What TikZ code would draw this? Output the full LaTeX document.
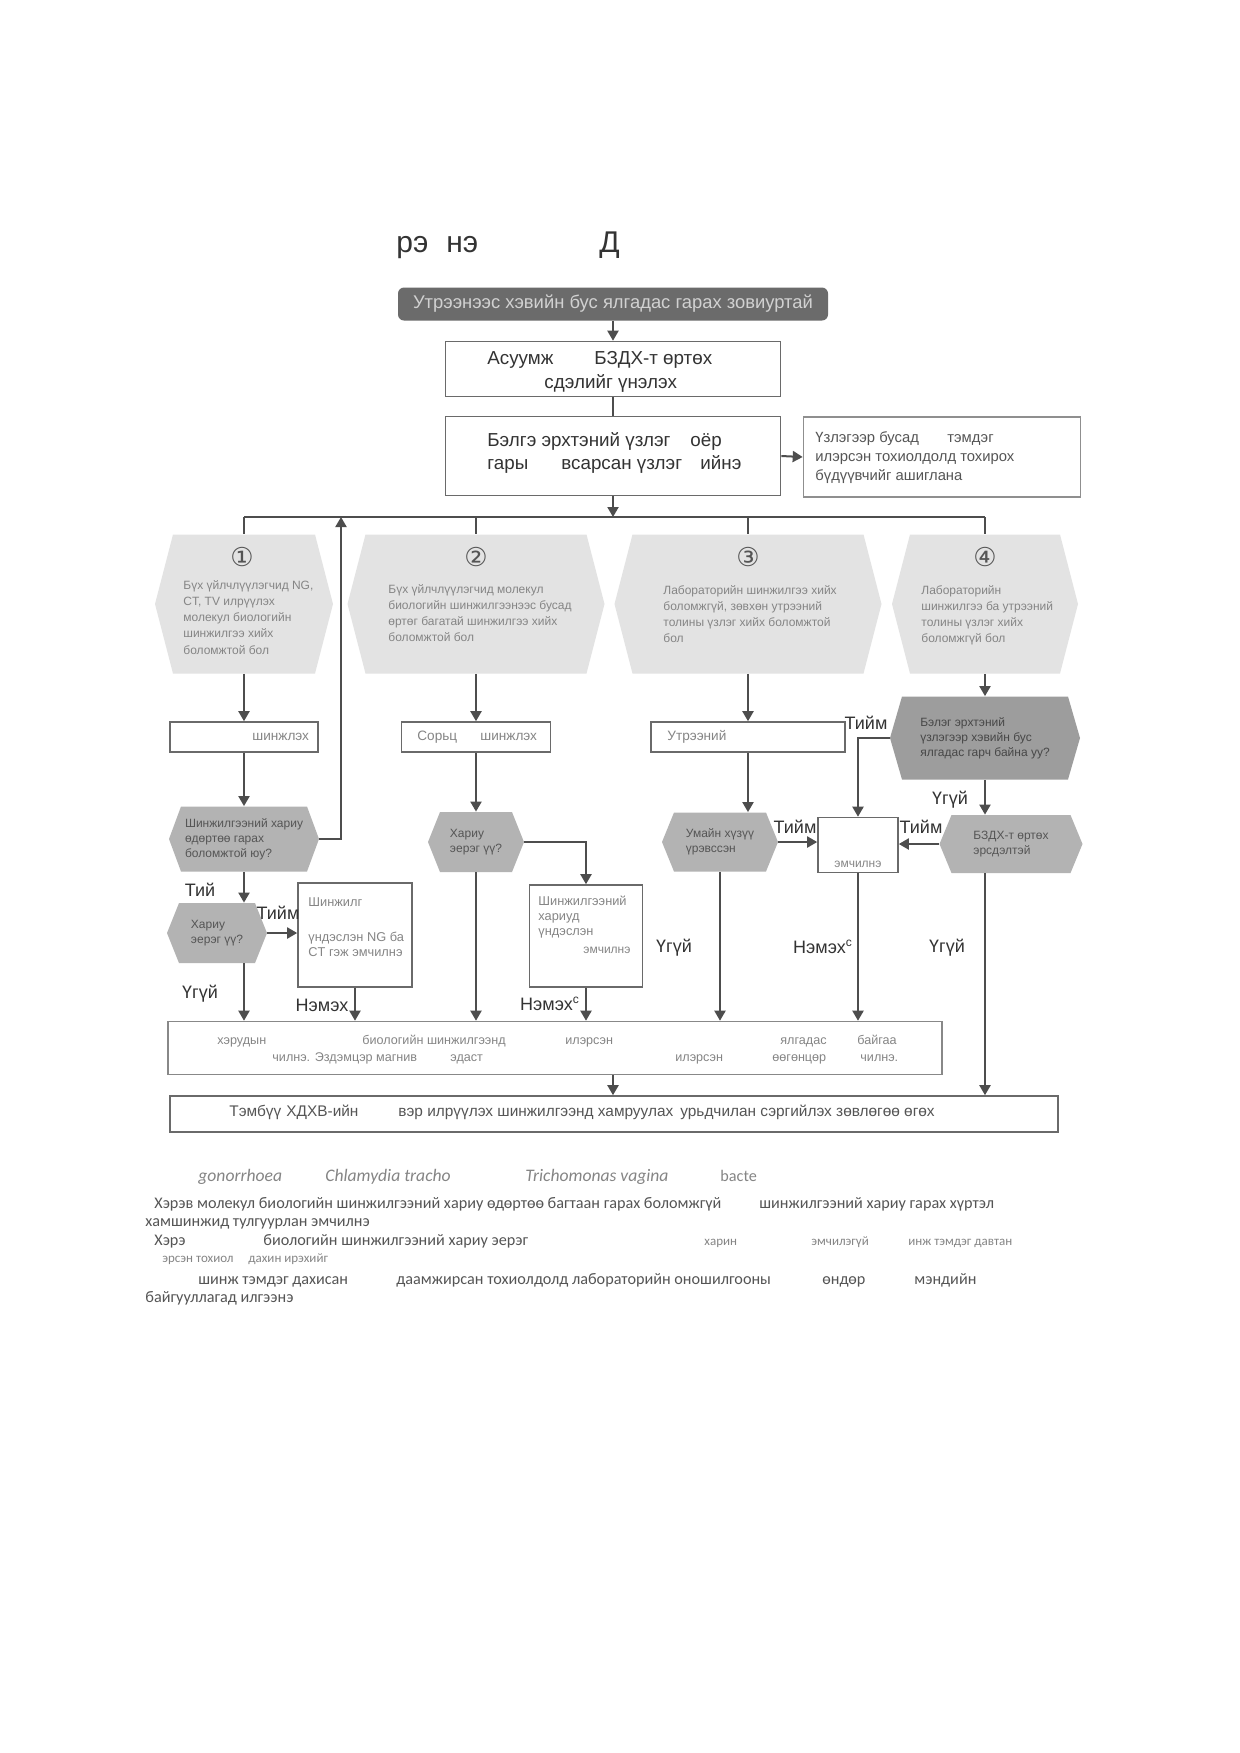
\documentclass[tikz,border=0pt]{standalone}
\usepackage{fontspec}
\setmainfont{Liberation Sans}
\newfontfamily\circfont{DejaVu Sans}
\newfontfamily\fnfont{Carlito}
\usetikzlibrary{arrows.meta}
\definecolor{lncol}{HTML}{4d4d4d}
\definecolor{boxcol}{HTML}{6a6a6a}
\definecolor{darkbox}{HTML}{6b6b6b}
\definecolor{hexlt}{HTML}{e3e3e3}
\definecolor{hexmd}{HTML}{b3b3b3}
\definecolor{hexdk}{HTML}{9d9d9d}
\definecolor{txtdk}{HTML}{333333}
\definecolor{txtmd}{HTML}{555555}
\definecolor{txtlt}{HTML}{858585}
\tikzset{
  sz/.style 2 args={minimum width=#1*0.5pt, minimum height=#2*0.5pt},
  box/.style={draw=boxcol, line width=0.8pt, inner sep=0pt},
  hexa/.style 2 args={inner sep=0pt, path picture={
    \fill[#1] ([xshift=#2]path picture bounding box.north west)
      -- ([xshift=-#2]path picture bounding box.north east)
      -- (path picture bounding box.east)
      -- ([xshift=-#2]path picture bounding box.south east)
      -- ([xshift=#2]path picture bounding box.south west)
      -- (path picture bounding box.west) -- cycle;}},
  conn/.style={draw=lncol, line width=1pt},
  arr/.style={conn, -{Triangle[length=5pt,width=5.5pt]}},
  lbl/.style={inner sep=0pt, text=txtdk, font=\fontsize{9}{10}\selectfont},
  frag/.style={anchor=base west, inner sep=0pt},
  bt/.style={frag, text=txtdk, font=\fontsize{9.4}{11}\selectfont},
  dt/.style={frag, text=txtmd, font=\fontsize{7.4}{9}\selectfont},
  st/.style={frag, text=txtlt, font=\fontsize{6.8}{7.5}\selectfont},
  hxt/.style={anchor=north west, inner sep=0pt, align=left, text=txtlt, font=\fontsize{6}{8.1}\selectfont},
  qt/.style={align=left, text=txtmd, font=\fontsize{6}{7.6}\selectfont},
  circ/.style={inner sep=0pt, text=txtmd, font=\circfont\fontsize{13}{13}\selectfont},
  bbt/.style={frag, text=txtlt, font=\fontsize{6.3}{7}\selectfont},
  fbt/.style={frag, text=txtmd, font=\fontsize{7.7}{9}\selectfont},
  fn/.style={frag, text=txtmd, font=\fnfont\fontsize{8.1}{10}\selectfont},
  fni/.style={frag, text=txtlt, font=\fnfont\itshape\fontsize{8.8}{10}\selectfont},
  fns/.style={frag, text=txtlt, font=\fnfont\fontsize{6.5}{8}\selectfont},
}
\begin{document}
\begin{tikzpicture}[x=0.5pt,y=-0.5pt]
\useasboundingbox (0,0) rectangle (1240,1753);
\fill[white] (0,0) rectangle (1240,1753);

% title
\node[frag, text=txtdk, font=\fontsize{15}{17}\selectfont] (ttl1) at (396,252) {рэ\hspace{9pt}нэ};
\node[frag, text=txtdk, font=\fontsize{15}{17}\selectfont] (ttl2) at (599,252) {Д};

% top boxes
\node[fill=darkbox, rounded corners=3pt, sz={430}{33}, inner sep=0pt, text=white!82!black, font=\fontsize{9.2}{10}\selectfont] (A) at (613,304) {Утрээнээс хэвийн бус ялгадас гарах зовиуртай};

\node[box, sz={335}{55}] (B) at (613,369) {};
\node[bt] (b1) at (487,364) {Асуумж};
\node[bt] (b2) at (594,364) {БЗДХ-т өртөх};
\node[bt] (b3) at (544,388) {сдэлийг үнэлэх};

\node[box, sz={335}{79}] (C) at (613,456) {};
\node[bt] (c1) at (487,446) {Бэлгэ эрхтэний үзлэг};
\node[bt] (c2) at (690,446) {оёр};
\node[bt] (c3) at (487,469) {гары};
\node[bt] (c4) at (561,469) {всарсан үзлэг};
\node[bt] (c5) at (700,469) {ийнэ};

\node[box, draw=boxcol!75, sz={277}{80}] (D) at (942,457) {};
\node[dt] (d1) at (815,442) {Үзлэгээр бусад};
\node[dt] (d2) at (947,442) {тэмдэг};
\node[dt] (d3) at (815,461) {илэрсэн тохиолдолд тохирох};
\node[dt] (d4) at (815,480) {бүдүүвчийг ашиглана};

% bus coordinates
\coordinate (busL) at (244,517);
\coordinate (busR) at (985,517);
\coordinate (upret) at (341,517);

% hexagons
\node[hexa={hexlt}{9pt}, sz={178}{139}] (H1) at (244,604) {};
\node[hexa={hexlt}{9pt}, sz={257}{139}] (H2) at (476,604) {};
\node[hexa={hexlt}{9pt}, sz={267}{139}] (H3) at (748,604) {};
\node[hexa={hexlt}{9pt}, sz={186}{139}] (H4) at (985,604) {};
\node[circ] (n1) at (242,557) {①};
\node[circ] (n2) at (476,557) {②};
\node[circ] (n3) at (748,557) {③};
\node[circ] (n4) at (985,557) {④};
\node[hxt] (h1t) at (183,580) {Бүх үйлчлүүлэгчид NG,\\CT, TV илрүүлэх\\молекул биологийн\\шинжилгээ хийх\\боломжтой бол};
\node[hxt] (h2t) at (388,584) {Бүх үйлчлүүлэгчид молекул\\биологийн шинжилгээнээс бусад\\өртөг багатай шинжилгээ хийх\\боломжтой бол};
\node[hxt] (h3t) at (663,585) {Лабораторийн шинжилгээ хийх\\боломжгүй, зөвхөн утрээний\\толины үзлэг хийх боломжтой\\бол};
\node[hxt] (h4t) at (921,585) {Лабораторийн\\шинжилгээ ба утрээний\\толины үзлэг хийх\\боломжгүй бол};

% column 1
\node[box, sz={148}{30}] (S1) at (244,737) {};
\node[st] (s1t) at (252,740) {шинжлэх};
\node[hexa={hexmd}{6pt}, sz={150}{65}, qt] (Q1) at (244,839) {Шинжилгээний хариу\\өдөртөө гарах\\боломжтой юу?};
\node[hexa={hexmd}{6pt}, sz={100}{60}, qt] (Q1b) at (217,933) {Хариу\\эерэг үү?};
\node[box, sz={114}{104}] (R1) at (355,935) {};
\node[anchor=north west, inner sep=0pt, align=left, text=txtlt, font=\fontsize{6.4}{7.5}\selectfont] (r1t) at (308,897) {Шинжилг\\[10pt]үндэслэн NG ба\\CT гэж эмчилнэ};

% column 2
\node[box, sz={149}{30}] (S2) at (476,737) {};
\node[st] (s2a) at (417,740) {Сорьц};
\node[st] (s2b) at (480,740) {шинжлэх};
\node[hexa={hexmd}{6pt}, sz={96}{60}, qt] (Q2) at (476,842) {Хариу\\эерэг үү?};
\node[box, sz={113}{102}] (R2) at (586,936) {};
\node[anchor=north west, inner sep=0pt, align=left, text=txtlt, font=\fontsize{6.4}{7.5}\selectfont] (r2t) at (538,896) {Шинжилгээний\\хариуд\\үндэслэн};
\node[frag, text=txtlt, font=\fontsize{6}{7}\selectfont] (r2e) at (583,953) {эмчилнэ};

% column 3
\node[box, sz={194}{30}] (S3) at (748,737) {};
\node[st] (s3t) at (667,740) {Утрээний};
\node[hexa={hexmd}{6pt}, sz={116}{59}, qt] (Q3) at (720,842) {Умайн хүзүү\\үрэвссэн};
\node[box, sz={80}{55}] (E) at (858,845) {};
\node[frag, text=txtlt, font=\fontsize{6}{7}\selectfont] (et) at (834,867) {эмчилнэ};

% column 4
\node[hexa={hexdk}{6pt}, sz={190}{83}, qt, text=txtdk!90] (Q4) at (985,738) {Бэлэг эрхтэний\\үзлэгээр хэвийн бус\\ялгадас гарч байна уу?};
\node[hexa={hexmd}{6pt}, sz={143}{58}, qt] (Q5) at (1011,844) {БЗДХ-т өртөх\\эрсдэлтэй};

% bottom boxes
\node[box, draw=boxcol!80, sz={774}{53}] (BB) at (555,1048) {};
\node[bbt] (bb1) at (217,1044) {хэрудын};
\node[bbt] (bb2) at (362,1044) {биологийн шинжилгээнд};
\node[bbt] (bb3) at (565,1044) {илэрсэн};
\node[bbt] (bb4) at (780,1044) {ялгадас};
\node[bbt] (bb5) at (857,1044) {байгаа};
\node[bbt] (bb6) at (272,1061) {чилнэ. Эздэмцэр магнив};
\node[bbt] (bb7) at (450,1061) {эдаст};
\node[bbt] (bb8) at (675,1061) {илэрсэн};
\node[bbt] (bb9) at (772,1061) {өөгөнцөр};
\node[bbt] (bb10) at (860,1061) {чилнэ.};

\node[box, sz={888}{36}] (FB) at (614,1114) {};
\node[fbt] (f1) at (229,1116) {Тэмбүү};
\node[fbt] (f2) at (286,1116) {ХДХВ-ийн};
\node[fbt] (f3) at (398,1116) {вэр илрүүлэх шинжилгээнд хамруулах};
\node[fbt] (f4) at (680,1116) {урьдчилан сэргийлэх зөвлөгөө өгөх};

% labels
\node[lbl] (l1) at (200,890) {Тий};
\node[lbl] (l2) at (278,913) {Тийм};
\node[lbl] (l3) at (200,994) {Үгүй};
\node[lbl] (l4) at (322,1005) {Нэмэх};
\node[lbl] (l5) at (550,1004) {Нэмэх\textsuperscript{c}};
\node[lbl] (l6) at (795,827) {Тийм};
\node[lbl] (l7) at (866,723) {Тийм};
\node[lbl] (l8) at (950,800) {Үгүй};
\node[lbl] (l9) at (921,827) {Тийм};
\node[lbl] (l10) at (674,948) {Үгүй};
\node[lbl] (l11) at (823,947) {Нэмэх\textsuperscript{c}};
\node[lbl] (l12) at (947,948) {Үгүй};

% footnotes
\node[fni] (fa) at (198,1181) {gonorrhoea};
\node[fni] (fb) at (325,1181) {Chlamydia tracho};
\node[fni] (fc) at (525,1181) {Trichomonas vagina};
\node[fn, text=txtlt] (fd) at (720,1181) {bacte};
\node[fn] (fe) at (154,1208) {Хэрэв молекул биологийн шинжилгээний хариу өдөртөө багтаан гарах боломжгүй};
\node[fn] (ff) at (759,1208) {шинжилгээний хариу гарах хүртэл};
\node[fn] (fg) at (145,1226) {хамшинжид тулгуурлан эмчилнэ};
\node[fn] (fh) at (154,1245) {Хэрэ};
\node[fn] (fi) at (263,1245) {биологийн шинжилгээний хариу эерэг};
\node[fns] (fj) at (704,1245) {харин};
\node[fns] (fk) at (811,1245) {эмчилэгүй};
\node[fns] (fl) at (908,1245) {инж тэмдэг давтан};
\node[fns] (fm) at (162,1262) {эрсэн тохиол};
\node[fns] (fn2) at (248,1262) {дахин ирэхийг};
\node[fn] (fo) at (198,1284) {шинж тэмдэг дахисан};
\node[fn] (fp) at (396,1284) {даамжирсан тохиолдолд лабораторийн оношилгооны};
\node[fn] (fq) at (822,1284) {өндөр};
\node[fn] (fr) at (914,1284) {мэндийн};
\node[fn] (fs) at (145,1302) {байгууллагад илгээнэ};

% connectors
\draw[arr] (A.south) -- (A.south |- B.north);
\draw[conn] (B.south) -- (C.north);
\draw[arr] (C.east) -- (D.west);
\draw[arr] (C.south) -- (C.south |- busL);
\draw[conn] (busL) -- (busR);
\draw[conn] (busL) -- (H1.north);
\draw[conn] (H2.north |- busL) -- (H2.north);
\draw[conn] (H3.north |- busL) -- (H3.north);
\draw[conn] (busR) -- (H4.north);

\draw[arr] (H1.south) -- (S1.north);
\draw[arr] (S1.south) -- (Q1.north);
\draw[arr] (Q1.east) -| (upret);
\draw[arr] (Q1.south) -- (Q1.south |- Q1b.north);
\draw[arr] (Q1b.east) -- (Q1b.east -| R1.west);
\draw[arr] (Q1.south |- Q1b.south) -- (Q1.south |- BB.north);
\draw[arr] (R1.south) -- (R1.south |- BB.north);

\draw[arr] (H2.south) -- (S2.north);
\draw[arr] (S2.south) -- (Q2.north);
\draw[arr] (Q2.east) -| (R2.north);
\draw[arr] (Q2.south) -- (Q2.south |- BB.north);
\draw[arr] (R2.south) -- (R2.south |- BB.north);

\draw[arr] (H3.south) -- (S3.north);
\draw[arr] (S3.south) -- (S3.south |- Q3.north);
\draw[arr] (Q3.south) -- (Q3.south |- BB.north);
\draw[arr] (Q3.east) -- (Q3.east -| E.west);
\draw[arr] (E.south) -- (E.south |- BB.north);

\draw[arr] (H4.south) -- (Q4.north);
\draw[arr] (Q4.west) -| (E.north);
\draw[arr] (Q4.south) -- (Q4.south |- Q5.north);
\draw[arr] (Q5.west) -- (Q5.west -| E.east);
\draw[arr] (Q4.south |- Q5.south) -- (Q4.south |- FB.north);

\draw[arr] (BB.south -| C.south) -- (C.south |- FB.north);
\end{tikzpicture}
\end{document}
